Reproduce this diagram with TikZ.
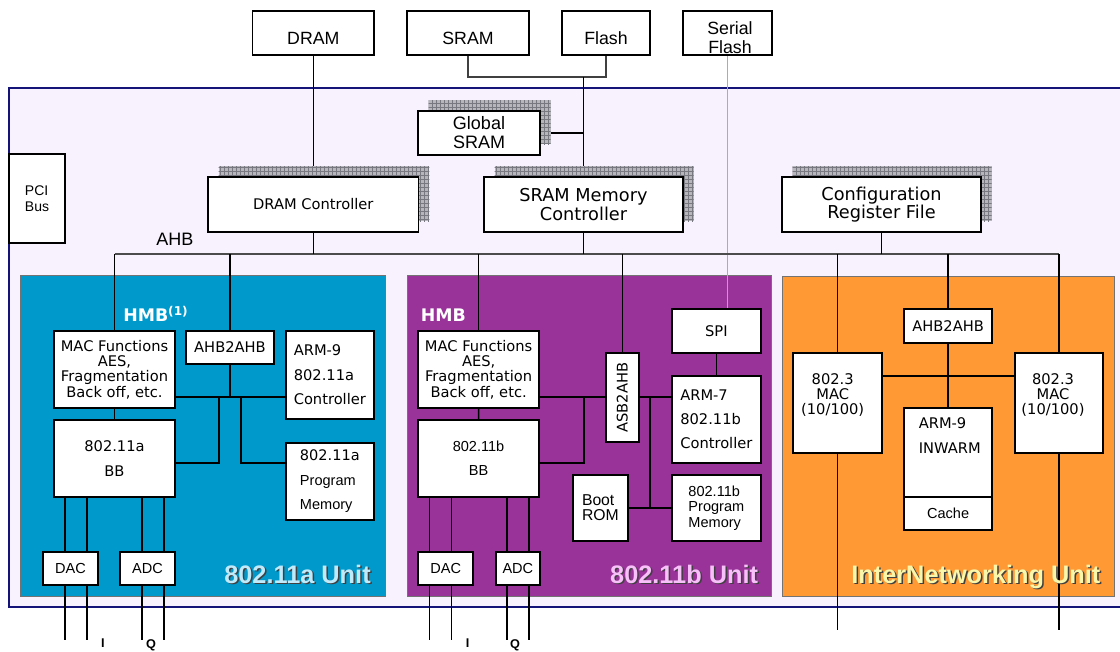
\documentclass[tikz,border=0pt]{standalone}
\usepackage{fontspec}
\setmainfont{Liberation Sans}
\newfontfamily\vfont{DejaVu Sans}
\usepackage{graphicx}
\usetikzlibrary{positioning,calc,patterns,shadows}
\definecolor{frameBg}{RGB}{247,242,253}
\definecolor{frameLine}{RGB}{20,20,120}
\definecolor{unitA}{RGB}{0,153,204}
\definecolor{unitB}{RGB}{153,51,153}
\definecolor{unitC}{RGB}{255,153,51}
\definecolor{lblA}{RGB}{192,234,250}
\definecolor{lblB}{RGB}{248,192,248}
\definecolor{lblC}{RGB}{250,246,170}
\definecolor{gridBg}{RGB}{182,182,188}
\definecolor{gridLn}{RGB}{120,120,128}
\newcommand{\fsz}[2]{\fontsize{#1}{#2}\selectfont}
\pgfdeclarelayer{back}
\pgfdeclarelayer{wires}
\pgfsetlayers{back,wires,main}

\begin{document}
\begin{tikzpicture}[x=0.75pt, y=-0.75pt,
    sz/.style 2 args={minimum width=#1*0.75pt, minimum height=#2*0.75pt},
    blk/.style={draw, fill=white, line width=1.3pt, inner sep=1pt},
    topbox/.style={blk, font=\fsz{13.3}{14.25}, text height=17.7pt, text depth=0pt},
    shadowed/.style={general shadow={fill=gridBg, shadow xshift=8pt, shadow yshift=8pt},
      general shadow={pattern=grid, pattern color=gridLn, shadow xshift=8pt, shadow yshift=8pt}},
    wire/.style={line width=1.2pt},
    memline/.style={line width=1.1pt, black!75},
    busline/.style={line width=1pt, black!70},
    sline/.style={line width=0.7pt, gray!65},
    hmblbl/.style={anchor=base west, inner sep=0, text=white, font=\vfont\bfseries\fsz{13}{14}},
    unitlbl/.style={anchor=base east, inner sep=0, font=\bfseries\fsz{19}{20}},
    pinlbl/.style={anchor=north, inner sep=0, font=\bfseries\fsz{9.5}{10}}]
  \useasboundingbox (0,0) rectangle (1120,651);

  % chip frame and the three units
  \begin{pgfonlayer}{back}
    \filldraw[fill=frameBg, draw=frameLine, line width=1.5pt] (9,88) rectangle (1135,607);
    \filldraw[fill=unitA, draw=black!55] (20.7,275.7) rectangle (385,596);
    \filldraw[fill=unitB, draw=black!55] (407.3,275.7) rectangle (771.7,596);
    \filldraw[fill=unitC, draw=black!55] (782.7,276) rectangle (1114,596);
  \end{pgfonlayer}

  % external memories
  \node[topbox, sz={121.5}{44}] (dram) at (313.3,33) {DRAM};
  \node[topbox, sz={122}{44}] (sram) at (468,33) {SRAM};
  \node[topbox, sz={88}{44}] (flash) at (606,33) {Flash};
  \node[blk, sz={89}{44}] (sflash) at (727.5,33) {};
  \node[align=center, font=\fsz{13.3}{14.25}] (sflashtx) at (730,37.5) {Serial\\Flash};

  % shared blocks
  \node[blk, shadowed, sz={122}{44}, align=center, font=\fsz{13.5}{14.25}] (gsram) at (479,133) {Global\\SRAM};
  \node[blk, sz={56}{89}, align=left, font=\fsz{10.5}{11.7}] (pci) at (37,198.5) {PCI\\Bus};
  \node[blk, shadowed, sz={210.6}{55}, font=\vfont\fsz{11}{13}] (dramctl) at (313.3,204.5) {DRAM Controller};
  \node[blk, shadowed, sz={199}{55}, align=center, font=\vfont\fsz{13.3}{13.7}] (sramctl) at (583.5,204.5) {SRAM Memory\\Controller};
  \node[blk, shadowed, sz={199}{55}, align=center, font=\vfont\fsz{13.3}{13.7}] (cfg) at (881.5,204.5) {Configuration\\Register File};
  \node[anchor=base west, inner sep=0, font=\fsz{13.5}{14}] (ahblbl) at (156,245.5) {AHB};

  % 802.11a unit
  \node[hmblbl] (hmba) at (123,321) {HMB\textsuperscript{(1)}};
  \node[blk, sz={121}{77}, align=center, font=\vfont\fsz{11}{11.5}] (maca) at (114.5,369.5) {MAC Functions\\AES,\\Fragmentation\\Back off, etc.};
  \node[blk, sz={88}{33}, font=\vfont\fsz{11}{13}] (ahba) at (230,347.5) {AHB2AHB};
  \node[blk, sz={88.3}{88}, align=left, font=\vfont\fsz{11}{18.4}] (arma) at (329.85,375) {ARM-9\\802.11a\\Controller};
  \node[blk, sz={121}{76.7}, align=center, font=\vfont\fsz{11}{18.75}] (bba) at (114.5,458.35) {802.11a\\BB};
  \node[blk, sz={88.3}{77.3}, align=left, font=\fsz{10.9}{18.4}] (proga) at (329.85,481.5) {{\vfont 802.11a}\\Program\\Memory};
  \node[blk, sz={55.6}{33}, font=\fsz{10.9}{12}] (daca) at (70.5,568.5) {DAC};
  \node[blk, sz={55}{33}, font=\fsz{10.9}{12}] (adca) at (147.5,568.5) {ADC};
  \node[unitlbl, text=black!75] (lblAsh) at (372.5,584.5) {802.11a Unit};
  \node[unitlbl, text=lblA] (lblA) at (371,583) {802.11a Unit};
  \node[pinlbl] (ia) at (103,639) {I};
  \node[pinlbl] (qa) at (151,639) {Q};

  % 802.11b unit
  \node[hmblbl] (hmbb) at (420.7,321) {HMB};
  \node[blk, sz={121.3}{77}, align=center, font=\vfont\fsz{11}{11.5}] (macb) at (478.65,369.5) {MAC Functions\\AES,\\Fragmentation\\Back off, etc.};
  \node[blk, sz={121}{76.7}, align=center, font=\fsz{10.9}{18}] (bbb) at (478.5,458.35) {802.11b\\BB};
  \node[blk, sz={33.3}{88.4}, font=\vfont\fsz{11}{13}] (asb) at (622.35,397.5) {\rotatebox{90}{ASB2AHB}};
  \node[blk, sz={88.7}{44}, font=\vfont\fsz{11}{13}] (spi) at (716.35,331) {SPI};
  \node[blk, sz={88.7}{87.6}, align=left, font=\vfont\fsz{11}{18}] (armb) at (716.35,419.5) {ARM-7\\802.11b\\Controller};
  \node[blk, sz={55.3}{66.3}, align=left, font=\fsz{11.8}{11.3}] (bootrom) at (600.35,507.85) {Boot\\ROM};
  \node[blk, sz={88.7}{66.3}, align=left, font=\fsz{10.9}{11.6}] (progb) at (716.35,507.85) {802.11b\\Program\\Memory};
  \node[blk, sz={55.3}{33}, font=\fsz{10.9}{12}] (dacb) at (445.65,568.5) {DAC};
  \node[blk, sz={44.3}{33}, font=\fsz{10.9}{12}] (adcb) at (517.85,568.5) {ADC};
  \node[unitlbl, text=black!75] (lblBsh) at (759.8,584.5) {802.11b Unit};
  \node[unitlbl, text=lblB] (lblB) at (758.3,583) {802.11b Unit};
  \node[pinlbl] (ib) at (467.7,639) {I};
  \node[pinlbl] (qb) at (515,639) {Q};

  % InterNetworking unit
  \node[blk, sz={88.3}{33.4}, font=\vfont\fsz{11}{13}] (ahbc) at (948.15,326) {AHB2AHB};
  \node[blk, sz={88.7}{99.4}] (macl) at (837.65,403) {};
  \node[align=center, font=\vfont\fsz{11}{11.6}] (macltx) at (832.7,395) {802.3\\MAC\\(10/100)};
  \node[blk, sz={88.7}{99.4}] (macr) at (1059,403) {};
  \node[align=center, font=\vfont\fsz{11}{11.6}] (macrtx) at (1053,395) {802.3\\MAC\\(10/100)};
  \node[blk, sz={88.3}{88.4}] (armc) at (948.15,452.5) {};
  \node[align=left, font=\vfont\fsz{11}{18.75}] (armctx) at (949.7,435.5) {ARM-9\\INWARM};
  \node[blk, sz={88.3}{33.3}, font=\fsz{10.9}{12}] (cache) at (948.15,513.35) {Cache};
  \node[unitlbl, text=black!75] (lblCsh) at (1102.2,584.5) {InterNetworking Unit};
  \node[unitlbl, text=lblC] (lblC) at (1100.7,583) {InterNetworking Unit};

  \begin{pgfonlayer}{wires}
    % memory side
    \coordinate (memj) at (sramctl.north |- 0,77);
    \draw[memline] (sram.south) |- (memj);
    \draw[memline] (flash.south) |- (memj);
    \draw[wire] (memj) -- (sramctl.north);
    \draw[wire] (gsram.east) -- (gsram.east -| memj);
    \draw[wire] (dram.south) -- (dramctl.north);
    \draw[sline] (sflash.south) -- (sflash.south |- spi.north);
    % AHB bus
    \coordinate (bus) at (0,254);
    \draw[busline] (maca.north |- bus) -- (macr.north |- bus);
    \foreach \n in {dramctl,sramctl,cfg}
      \draw[wire] (\n.south) -- (\n.south |- bus);
    \foreach \n in {maca,ahba,macb,asb,macl,ahbc,macr}
      \draw[wire] (\n.north) -- (\n.north |- bus);
    % inside 802.11a
    \coordinate (ha) at (230,397);
    \coordinate (ja) at (219,463);
    \coordinate (ka) at (241,463);
    \draw[wire] (ahba.south) -- (ha);
    \draw[wire] (maca.east |- ha) -- (arma.west |- ha);
    \draw[wire] (ja |- ha) -- (ja) -- (bba.east |- ja);
    \draw[wire] (ka |- ha) -- (ka) -- (proga.west |- ka);
    \draw[wire] (maca) -- (bba);
    \foreach \x in {65,87,142,164} {
      \coordinate (pin) at (\x,640);
      \draw[wire] (pin |- bba.south) -- (pin);
    }
    % inside 802.11b
    \coordinate (hb) at (584,397);
    \coordinate (jb) at (584,463);
    \coordinate (kb) at (650,508);
    \draw[wire] (macb.east |- hb) -- (armb.west |- hb);
    \draw[wire] (jb |- hb) -- (jb) -- (bbb.east |- jb);
    \draw[wire] (kb |- hb) -- (kb);
    \draw[wire] (bootrom) -- (progb);
    \draw[wire] (spi) -- (armb);
    \draw[wire] (macb) -- (bbb);
    \foreach \x in {429.3,451.3,506.7,528.7} {
      \coordinate (pin) at (\x,640);
      \draw[wire] (pin |- bbb.south) -- (pin);
    }
    % inside InterNetworking
    \coordinate (hc) at (948.15,375.7);
    \draw[wire] (ahbc) -- (armc);
    \draw[wire] (macl.east |- hc) -- (macr.west |- hc);
    \draw[wire] (macl.south) -- ++(0,176.3);
    \draw[wire] (macr.south) -- ++(0,176.3);
  \end{pgfonlayer}
\end{tikzpicture}
\end{document}
